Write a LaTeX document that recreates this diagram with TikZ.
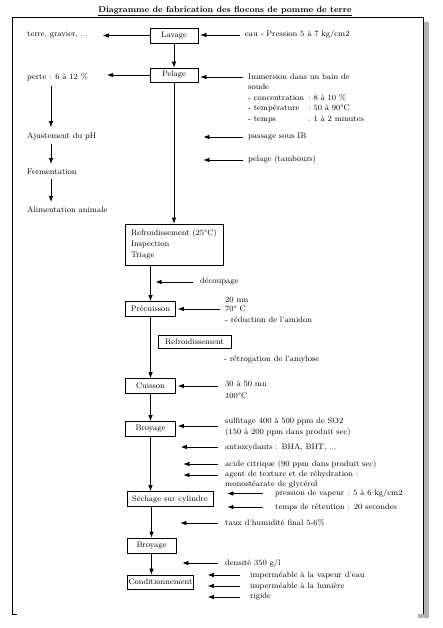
\documentclass[tikz,border=0pt]{standalone}
\usepackage{fontspec}
\usepackage{tikz}
\usetikzlibrary{arrows.meta, positioning}

\begin{document}
\begin{tikzpicture}[
    x=1pt, y=-1pt,
    font=\fontsize{8}{10.5}\selectfont,
    box/.style={draw, rectangle, line width=0.7pt, inner sep=0pt, minimum height=15pt},
    txt/.style={anchor=west, inner sep=0pt},
    arrow/.style={-{Latex[length=6pt,width=4.5pt]}, line width=0.7pt},
    feed/.style={arrow, shorten <=5pt, shorten >=2pt}
]
\useasboundingbox (0,0) rectangle (443,628);

% cadre
\fill[gray!60] (424,22) rectangle (429,618);
\fill[gray!60] (418,614) rectangle (429,618);
\draw[line width=0.8pt] (17,614) -- (12,614) -- (12,17) -- (423,17) -- (423,614);

\node[font=\fontsize{8.5}{10}\selectfont\bfseries] (titre) at (225,11) {\underline{Diagramme de fabrication des flocons de pomme de terre}};

% etapes
\node (lavage) [box, minimum width=48pt] at (174,35.5) {Lavage};
\node (pelage) [box, minimum width=48pt, minimum height=14pt] at (174,75) {Pelage};
\node (refroid) [box, text width=86pt, inner xsep=6pt, minimum height=41pt, align=left, font=\fontsize{8}{11}\selectfont] at (174,244.5) {Refroidissement (25°C)\\Inspection\\Triage};
\node (precuisson) [box, minimum width=50pt] at (150.5,309) {Précuisson};
\node (refroidB) [box, minimum width=73pt, minimum height=13pt] at (194.5,341.5) {Refroidissement};
\node (cuisson) [box, minimum width=50pt] at (150.5,386) {Cuisson};
\node (broyage) [box, minimum width=50pt] at (150.5,429) {Broyage};
\node (sechage) [box, minimum width=86pt] at (170,499) {Séchage sur cylindre};
\node (broyageB) [box, minimum width=49pt] at (151.5,545.5) {Broyage};
\node (condit) [box, minimum width=66pt, minimum height=14pt] at (160.5,582) {Conditionnement};

% textes
\node (terre) [txt] at (27,35) {terre, gravier, ...};
\node (eau) [txt] at (245,35) {eau - Pression 5 à 7 kg/cm2};
\node (perte) [txt] at (27,77) {perte : 6 à 12 \%};
\node (immersion) [txt] at (248,77) {Immersion dans un bain de};
\node (soude) [txt] at (248,87) {soude};
\node (conc) [txt] at (248,98) {\makebox[60pt][l]{- concentration}:\hspace{3pt}8 à 10 \%};
\node (temp) [txt] at (248,108.5) {\makebox[60pt][l]{- température}:\hspace{3pt}50 à 90°C};
\node (temps) [txt] at (248,119.5) {\makebox[60pt][l]{- temps}:\hspace{3pt}1 à 2 minutes};
\node (ajust) [txt] at (27,136) {Ajustement du pH};
\node (ferment) [txt] at (27,172) {Fermentation};
\node (alim) [txt] at (27,210) {Alimentation animale};
\node (ir) [txt] at (248,137) {passage sous IR};
\node (tambours) [txt] at (248,160) {pelage (tambours)};
\node (decoupage) [txt] at (200,282) {découpage};
\node (precA) [txt] at (225,300) {20 mn};
\node (precB) [txt] at (225,309) {70° C};
\node (precC) [txt] at (225,320) {- réduction de l'amidon};
\node (retro) [txt] at (224,360) {- rétrogation de l'amylose};
\node (cuisA) [txt] at (225,384) {30 à 50 mn};
\node (cuisB) [txt] at (225,396) {100°C};
\node (sulf) [txt] at (225,422) {sulfitage 400 à 500 ppm de SO2};
\node (sulfB) [txt] at (225,432) {(150 à 200 ppm dans produit sec)};
\node (antiox) [txt] at (225,447) {antioxydants : BHA, BHT, ...};
\node (citr) [txt] at (225,464) {acide citrique (90 ppm dans produit sec)};
\node (agent) [txt] at (225,475) {agent de texture et de réhydration :};
\node (glycerol) [txt] at (225,485) {monostéarate de glycérol};
\node (vapeur) [txt] at (275,493.5) {pression de vapeur : 5 à 6 kg/cm2};
\node (retention) [txt] at (275,507) {temps de rétention : 20 secondes};
\node (humid) [txt] at (225,523) {taux d'humidité final 5-6\%};
\node (dens) [txt] at (225,563) {densité 350 g/l};
\node (imp1) [txt] at (250,575) {imperméable à la vapeur d'eau};
\node (imp2) [txt] at (250,586) {imperméable à la lumière};
\node (rigide) [txt] at (250,597) {rigide};

% ligne principale
\draw [arrow] (lavage) -- (pelage);
\draw [arrow] (pelage.south) -- (pelage.south |- refroid.north);
\draw [arrow] (precuisson.north |- refroid.south) -- (precuisson.north);
\draw [arrow] (precuisson) -- (cuisson);
\draw [arrow] (cuisson) -- (broyage);
\draw [arrow] (broyage.south) -- (broyage.south |- sechage.north);
\draw [arrow] (broyageB.north |- sechage.south) -- (broyageB.north);
\draw [arrow] (broyageB.south) -- (broyageB.south |- condit.north);

% sous-produits
\draw [arrow, shorten >=15pt] (lavage.west) -- (lavage.west -| terre.east);
\draw [arrow, shorten >=19pt] (pelage.west) -- (pelage.west -| perte.east);
\draw [arrow, shorten <=5pt, shorten >=5pt] ([xshift=24pt]perte.south west) -- ([xshift=24pt]ajust.north west);
\draw [arrow, shorten <=4pt, shorten >=5pt] ([xshift=24pt]ajust.south west) -- ([xshift=24pt]ferment.north west);
\draw [arrow, shorten <=4pt, shorten >=5pt] ([xshift=24pt]ferment.south west) -- ([xshift=24pt]alim.north west);

% entrees
\draw [feed] (eau.west) -- (eau.west -| lavage.east);
\draw [feed] (immersion.west) -- (immersion.west -| pelage.east);
\draw [feed, shorten >=5pt] (ir.west) -- (ir.west -| pelage.east);
\draw [feed, shorten >=5pt] (tambours.west) -- (tambours.west -| pelage.east);
\draw [feed, shorten <=7pt, shorten >=5pt] (decoupage.west) -- (decoupage.west -| precuisson.north);
\draw [feed] (precB.west) -- (precB.west -| precuisson.east);
\draw [feed, shorten <=7pt] (cuisson.east -| cuisA.west) -- (cuisson.east);
\draw [feed, shorten <=7pt] ([yshift=-4pt]sulf.west) -- ([yshift=-4pt]sulf.west -| broyage.east);
\draw [feed, shorten <=7pt, shorten >=5pt] (antiox.west) -- (antiox.west -| broyage.east);
\draw [feed, shorten <=7pt, shorten >=7.5pt] (citr.west) -- (citr.west -| broyage.east);
\draw [feed, shorten <=7pt, shorten >=7.5pt] (agent.west) -- (agent.west -| broyage.east);
\draw [feed, shorten <=12pt, shorten >=14pt] (vapeur.west) -- (vapeur.west -| sechage.east);
\draw [feed, shorten <=12pt, shorten >=14pt] (retention.west) -- (retention.west -| sechage.east);
\draw [feed, shorten <=7pt, shorten >=4pt] (humid.west) -- (humid.west -| broyageB.east);
\draw [feed, shorten <=7pt, shorten >=6pt] (dens.west) -- (dens.west -| broyageB.east);
\draw [feed, shorten <=10pt, shorten >=14pt] (imp1.west) -- (imp1.west -| condit.east);
\draw [feed, shorten <=10pt, shorten >=14pt] (imp2.west) -- (imp2.west -| condit.east);
\draw [feed, shorten <=10pt, shorten >=14pt] (rigide.west) -- (rigide.west -| condit.east);

\end{tikzpicture}
\end{document}
